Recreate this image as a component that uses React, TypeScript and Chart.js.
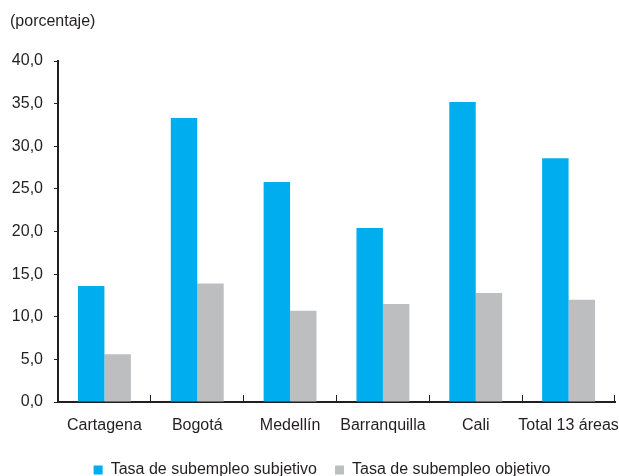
import React, { useEffect, useRef } from "react";
import { Chart, registerables } from "chart.js";

Chart.register(...registerables);

const categories = ["Cartagena", "Bogotá", "Medellín", "Barranquilla", "Cali", "Total 13 áreas"];
const subjetivo = [13.6, 33.3, 25.8, 20.4, 35.2, 28.6];
const objetivo = [5.6, 13.9, 10.7, 11.5, 12.8, 12.0];
const seriesNames = ["Tasa de subempleo subjetivo", "Tasa de subempleo objetivo"];
const unitLabel = "(porcentaje)";

const FONT = "'Liberation Sans', Arial, Helvetica, sans-serif";
const INK = "#231f20";

// Unit caption in the top-left corner.
const unitCaption = {
  id: "unitCaption",
  afterDraw(chart: Chart) {
    const ctx = chart.ctx;
    ctx.save();
    ctx.font = `16px ${FONT}`;
    ctx.fillStyle = INK;
    ctx.textAlign = "left";
    ctx.textBaseline = "middle";
    ctx.fillText(unitLabel, 10, 22);
    ctx.restore();
  },
};

// Places the legend row centred at a fixed point below the axis labels.
const legendPlacement = {
  id: "legendPlacement",
  afterLayout(chart: any) {
    const lg = chart.legend;
    if (!lg) return;
    const h = lg.bottom - lg.top;
    const w = lg.right - lg.left;
    const cx = 322;
    const cy = 466;
    lg.top = cy - h / 2;
    lg.bottom = lg.top + h;
    lg.left = cx - w / 2;
    lg.right = lg.left + w;
  },
};

export default function App() {
  const ref = useRef<HTMLCanvasElement | null>(null);

  useEffect(() => {
    if (!ref.current) return;
    const chart = new Chart(ref.current, {
      type: "bar",
      data: {
        labels: categories,
        datasets: [
          {
            label: seriesNames[0],
            data: subjetivo,
            backgroundColor: "#00aeef",
            barPercentage: 1,
            categoryPercentage: 0.57,
          },
          {
            label: seriesNames[1],
            data: objetivo,
            backgroundColor: "#bcbec0",
            barPercentage: 1,
            categoryPercentage: 0.57,
          },
        ],
      },
      options: {
        responsive: false,
        animation: false,
        layout: { padding: { left: 10, right: 4, top: 61, bottom: -10 } },
        plugins: {
          legend: {
            position: "bottom",
            labels: {
              boxWidth: 9,
              boxHeight: 9,
              padding: 18,
              color: INK,
              font: { family: FONT, size: 16 },
            },
          },
          tooltip: { enabled: false },
        },
        scales: {
          x: {
            afterFit(scale: any) {
              scale.height = 40;
              scale.paddingLeft = 0;
              scale.paddingRight = 0;
            },
            grid: {
              display: true,
              drawOnChartArea: false,
              offset: true,
              tickLength: -7,
              color: INK,
              lineWidth: 1,
            },
            border: { display: true, color: INK, width: 2 },
            ticks: {
              color: INK,
              padding: 21,
              maxRotation: 0,
              autoSkip: false,
              font: { family: FONT, size: 16 },
            },
          },
          y: {
            min: 0,
            max: 40,
            afterFit(scale: any) {
              scale.width = 48;
            },
            grid: {
              display: true,
              drawOnChartArea: false,
              tickLength: 4,
              color: INK,
              lineWidth: 1,
            },
            border: { display: true, color: INK, width: 2 },
            ticks: {
              stepSize: 5,
              color: INK,
              padding: 11,
              font: { family: FONT, size: 16 },
              callback: (v: any) => Number(v).toFixed(1).replace(".", ","),
            },
          },
        },
      },
      plugins: [unitCaption, legendPlacement],
    });
    return () => chart.destroy();
  }, []);

  return (
    <div style={{ position: "fixed", left: 0, top: 0, width: 619, height: 476, background: "#fff" }}>
      <canvas ref={ref} width={619} height={476} style={{ display: "block" }} />
    </div>
  );
}
